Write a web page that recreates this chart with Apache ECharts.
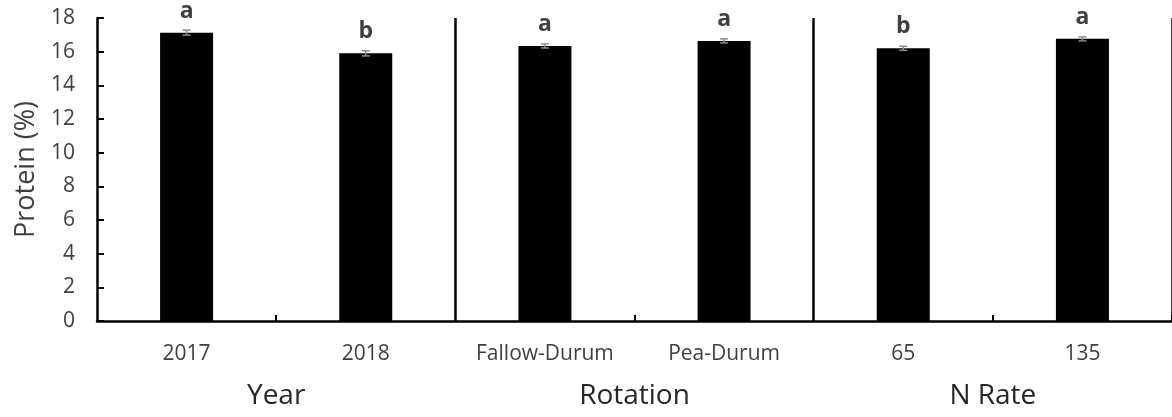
<!DOCTYPE html>
<html>
<head>
<meta charset="utf-8">
<script src="https://cdn.jsdelivr.net/npm/echarts@6/dist/echarts.min.js"></script>
<style>
html,body{margin:0;padding:0;background:#fff;}
#chart{width:1172px;height:417px;}
</style>
</head>
<body>
<div id="chart"></div>
<script>
const categories = ['2017', '2018', 'Fallow-Durum', 'Pea-Durum', '65', '135'];
const groups = ['Year', 'Rotation', 'N Rate'];
const protein = [17.13, 15.9, 16.34, 16.64, 16.2, 16.76];
const stdErr = [0.15, 0.15, 0.12, 0.12, 0.12, 0.12];
const letters = ['a', 'b', 'a', 'a', 'b', 'a'];
const yTicks = [0, 2, 4, 6, 8, 10, 12, 14, 16, 18];

const FONT = '"Open Sans", sans-serif';
const chart = echarts.init(document.getElementById('chart'), null, {renderer: 'canvas'});

const errData = protein.map((v, i) => [i, v - stdErr[i], v + stdErr[i]]);

chart.setOption({
  animation: false,
  backgroundColor: '#ffffff',
  grid: {left: 97, top: 18, bottom: 96, width: 1082, containLabel: false},
  xAxis: [{
    type: 'category',
    data: categories,
    boundaryGap: true,
    axisLine: {show: true, lineStyle: {color: '#000', width: 2.5}},
    axisTick: {show: true, inside: true, length: 6, lineStyle: {color: '#000', width: 2},
      interval: (i) => i === 1 || i === 3 || i === 5},
    splitLine: {show: true, lineStyle: {color: '#000', width: 2.5},
      interval: (i) => i === 2 || i === 4},
    axisLabel: {color: '#404040', fontFamily: FONT, fontSize: 21, margin: 23, interval: 0}
  }, {
    type: 'category',
    data: groups,
    position: 'bottom',
    gridIndex: 0,
    axisLine: {show: false},
    axisTick: {show: false},
    splitLine: {show: false},
    axisLabel: {color: '#262626', fontFamily: FONT, fontSize: 28, margin: 61, interval: 0}
  }],
  yAxis: {
    type: 'value',
    min: yTicks[0],
    max: yTicks[yTicks.length - 1],
    interval: yTicks[1] - yTicks[0],
    name: 'Protein (%)',
    nameLocation: 'middle',
    nameGap: 57,
    nameTextStyle: {color: '#404040', fontFamily: FONT, fontSize: 27},
    axisLine: {show: true, lineStyle: {color: '#000', width: 2.5}},
    axisTick: {show: true, inside: true, length: 7, lineStyle: {color: '#000', width: 2}},
    splitLine: {show: false},
    axisLabel: {color: '#404040', fontFamily: FONT, fontSize: 21, margin: 22}
  },
  series: [{
    type: 'bar',
    data: protein,
    barWidth: 53,
    itemStyle: {color: '#000'},
    label: {
      show: true,
      position: 'top',
      distance: 10,
      formatter: (p) => letters[p.dataIndex],
      color: '#404040',
      fontFamily: FONT,
      fontWeight: 'bold',
      fontSize: 23
    },
    z: 2
  }, {
    type: 'custom',
    data: errData,
    z: 3,
    renderItem: function (params, api) {
      const x = api.value(0);
      const lo = api.coord([x, api.value(1)]);
      const hi = api.coord([x, api.value(2)]);
      const hw = 4;
      const style = {stroke: '#8c8c8c', lineWidth: 1.5};
      return {
        type: 'group',
        children: [
          {type: 'line', shape: {x1: lo[0], y1: lo[1], x2: hi[0], y2: hi[1]}, style},
          {type: 'line', shape: {x1: hi[0] - hw, y1: hi[1], x2: hi[0] + hw, y2: hi[1]}, style},
          {type: 'line', shape: {x1: lo[0] - hw, y1: lo[1], x2: lo[0] + hw, y2: lo[1]}, style}
        ]
      };
    }
  }]
});
</script>
</body>
</html>
